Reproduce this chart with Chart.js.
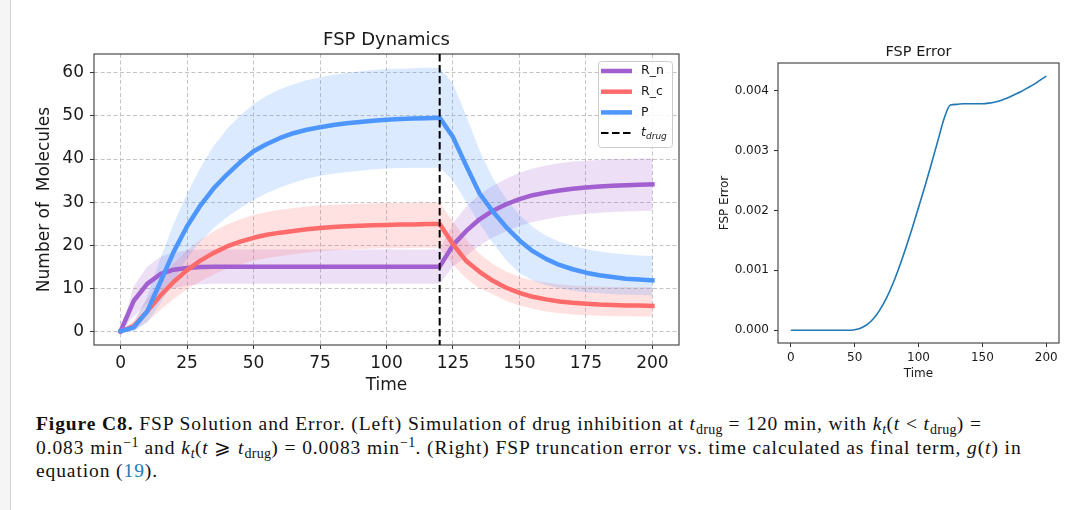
<!DOCTYPE html>
<html>
<head>
<meta charset="utf-8">
<script src="https://cdn.jsdelivr.net/npm/chart.js@4.4.1/dist/chart.umd.min.js"></script>
<style>
  body { margin: 0; width: 1082px; height: 510px; background: #fff; overflow: hidden; position: relative; }
  #strip { position: absolute; left: 0; top: 0; width: 10px; height: 510px; background: #f5f5f5; border-right: 1px solid #d4d4d4; }
  #left { position: absolute; left: 10px; top: 20px; }
  #right { position: absolute; left: 700px; top: 20px; }
  #caption { position: absolute; left: 36px; top: 412px; margin: 0; width: 1040px;
    font-family: "Liberation Serif", serif; font-size: 19.5px; letter-spacing: 0.9px; line-height: 23.5px; color: #111; white-space: nowrap; }
  #caption sub, #caption sup { font-size: 0.72em; line-height: 0; letter-spacing: 0.3px; }
  #caption sub { vertical-align: -0.3em; }
  #caption sup { vertical-align: 0.5em; }
  .ref { color: #1a7ab8; }
</style>
</head>
<body>
<div id="strip"></div>
<canvas id="left" width="690" height="380"></canvas>
<canvas id="right" width="382" height="380"></canvas>
<p id="caption"><b>Figure C8.</b> FSP Solution and Error. (Left) Simulation of drug inhibition at <i>t</i><sub>drug</sub> = 120 min, with <i>k<sub>t</sub></i>(<i>t</i> &lt; <i>t</i><sub>drug</sub>) =<br>0.083 min<sup>−1</sup> and <i>k<sub>t</sub></i>(<i>t</i> ⩾ <i>t</i><sub>drug</sub>) = 0.0083 min<sup>−1</sup>. (Right) FSP truncation error vs. time calculated as final term, <i>g</i>(<i>t</i>) in<br>equation (<span class="ref">19</span>).</p>
<script>
const FONT = 'DejaVu Sans'

// time points (min)
const times = [0, 5, 10, 15, 20, 25, 30, 35, 40, 45, 50, 55, 60, 65, 70, 75, 80, 85, 90, 95, 100,
  105, 110, 115, 120, 125, 130, 135, 140, 145, 150, 155, 160, 165, 170, 175, 180, 185, 190, 195, 200]
const tDrug = 120

// R_n
const rnMean = [0, 7.1, 11.0, 13.3, 14.3, 14.7, 14.9, 15, 15, 15, 15, 15, 15, 15, 15, 15, 15, 15, 15, 15, 15,
  15, 15, 15, 15, 20.0, 23.3, 26.0, 28.0, 29.5, 30.7, 31.6, 32.2, 32.7, 33.1, 33.4, 33.6, 33.8, 33.9, 34.0, 34.1]
const rnLo = [0, 3.5, 6.5, 8.8, 10.0, 10.6, 10.9, 11, 11, 11, 11, 11, 11, 11, 11, 11, 11, 11, 11, 11, 11,
  11, 11, 11, 11, 15.0, 17.5, 20.0, 21.8, 23.2, 24.5, 25.4, 26.0, 26.6, 27.0, 27.3, 27.5, 27.7, 27.8, 27.9, 28.0]
const rnHi = [0, 10.5, 15.0, 17.3, 18.3, 18.8, 19.0, 19, 19, 19, 19, 19, 19, 19, 19, 19, 19, 19, 19, 19, 19,
  19, 19, 19, 19, 25.0, 29.0, 31.8, 33.8, 35.4, 36.8, 37.8, 38.5, 39.0, 39.4, 39.6, 39.8, 40.0, 40.0, 40.1, 40.1]

// R_c
const rcMean = [0, 1.2, 4.6, 8.3, 11.5, 14.2, 16.4, 18.2, 19.7, 20.8, 21.7, 22.4, 22.9, 23.3, 23.7, 24.0, 24.2, 24.4, 24.5, 24.6, 24.7,
  24.8, 24.8, 24.9, 24.9, 20.2, 16.3, 13.8, 11.7, 10.1, 8.9, 8.0, 7.4, 6.9, 6.6, 6.4, 6.2, 6.1, 6.0, 6.0, 5.9]
const rcLo = [0, 0.2, 2.2, 5.0, 7.5, 9.8, 11.6, 13.2, 14.5, 15.5, 16.4, 17.0, 17.5, 17.9, 18.3, 18.6, 18.8, 19.0, 19.1, 19.2, 19.3,
  19.3, 19.4, 19.4, 19.4, 15.5, 12.2, 10.0, 8.6, 7.1, 6.0, 5.2, 4.6, 4.2, 3.9, 3.7, 3.6, 3.5, 3.5, 3.4, 3.4]
const rcHi = [0, 2.5, 7.5, 12.0, 15.8, 18.8, 21.2, 23.2, 24.8, 26.0, 27.0, 27.7, 28.2, 28.6, 29.0, 29.2, 29.4, 29.5, 29.6, 29.7, 29.8,
  29.8, 29.8, 29.9, 29.9, 25.5, 21.3, 18.0, 15.6, 13.9, 12.6, 11.8, 11.3, 10.9, 10.6, 10.5, 10.4, 10.3, 10.3, 10.2, 10.2]

// P
const pMean = [0, 0.9, 4.6, 11.5, 18.5, 24.4, 29.2, 33.2, 36.4, 39.3, 41.8, 43.5, 44.9, 46.0, 46.8, 47.4, 47.9, 48.3, 48.6, 48.9, 49.1,
  49.3, 49.4, 49.5, 49.6, 45.1, 38.4, 32.0, 27.8, 24.2, 21.1, 18.6, 16.8, 15.4, 14.4, 13.6, 13.0, 12.6, 12.2, 12.0, 11.8]
const pLo = [0, 0, 2.0, 6.5, 11.5, 17.0, 20.8, 24.0, 26.5, 28.6, 30.5, 32.1, 33.4, 34.5, 35.4, 36.1, 36.6, 37.0, 37.3, 37.6, 37.8,
  37.9, 38.0, 38.0, 38.0, 35.0, 30.0, 25.0, 20.5, 16.5, 13.5, 11.8, 10.7, 10.0, 9.4, 9.0, 8.8, 8.6, 8.5, 8.4, 8.3]
const pHi = [0, 2.0, 8.0, 17.0, 25.0, 32.0, 38.0, 43.0, 47.0, 50.2, 52.8, 54.7, 56.2, 57.4, 58.3, 59.0, 59.6, 60.0, 60.4, 60.7, 60.9,
  61.0, 61.1, 61.2, 61.2, 57.5, 50.0, 42.0, 35.5, 30.8, 27.0, 24.2, 22.2, 20.8, 19.8, 19.1, 18.5, 18.1, 17.8, 17.6, 17.5]

// FSP error g(t)
const errVals = [0, 0, 0, 0, 0, 0, 0, 0, 0, 0, 0.00001, 0.00004, 0.0001, 0.0002, 0.00035, 0.00054, 0.00078, 0.00106, 0.00137, 0.0017, 0.00205,
  0.0024, 0.00277, 0.00315, 0.00353, 0.00376, 0.00377, 0.00378, 0.00378, 0.00378, 0.00378, 0.00379, 0.00381, 0.00384, 0.00388, 0.00393,
  0.00398, 0.00404, 0.0041, 0.00417, 0.00424]

const dynXTicks = [0, 25, 50, 75, 100, 125, 150, 175, 200]
const dynYTicks = [0, 10, 20, 30, 40, 50, 60]
const errXTicks = [0, 50, 100, 150, 200]
const errYTicks = [0, 0.001, 0.002, 0.003, 0.004]

const colN = '#a15fd0', colC = '#ff6b6b', colP = '#4d96ff'

function pts(arr) { return times.map((t, i) => ({x: t, y: arr[i]})) }
function rgba(hex, a) {
  const n = parseInt(hex.slice(1), 16)
  return 'rgba(' + (n >> 16) + ',' + ((n >> 8) & 255) + ',' + (n & 255) + ',' + a + ')'
}
function band(arr, col, order, isHi) {
  return {data: pts(arr), borderWidth: 0, pointRadius: 0, order: order,
    backgroundColor: rgba(col, 0.2), fill: isHi ? '-1' : false}
}
function line(label, arr, col, order) {
  return {label: label, data: pts(arr), borderColor: col, borderWidth: 4.5, pointRadius: 0,
    borderJoinStyle: 'round', borderCapStyle: 'square', fill: false, order: order}
}

// box around the plot, like matplotlib spines
const frame = {
  id: 'frame',
  afterDatasetsDraw(chart) {
    const a = chart.chartArea, c = chart.ctx
    c.save()
    c.strokeStyle = '#3a3a3a'
    c.lineWidth = 1.1
    c.strokeRect(a.left, a.top, a.right - a.left, a.bottom - a.top)
    c.restore()
  }
}

const drugLine = {
  id: 'drugLine',
  afterDatasetsDraw(chart) {
    const a = chart.chartArea, c = chart.ctx
    const x = chart.scales.x.getPixelForValue(tDrug)
    c.save()
    c.strokeStyle = '#000'
    c.lineWidth = 2
    c.setLineDash([7.5, 3.5])
    c.beginPath()
    c.moveTo(x, a.top)
    c.lineTo(x, a.bottom)
    c.stroke()
    c.restore()
  }
}

const dynLegend = {
  id: 'dynLegend',
  afterDraw(chart) {
    const a = chart.chartArea, c = chart.ctx
    const w = 74, h = 86
    const bx = a.right - 7 - w, by = a.top + 7
    c.save()
    c.fillStyle = 'rgba(255,255,255,0.85)'
    c.strokeStyle = '#cccccc'
    c.lineWidth = 1
    c.beginPath()
    c.roundRect(bx + 0.5, by + 0.5, w, h, 3)
    c.fill()
    c.stroke()
    const items = [
      {text: 'R_n', col: colN}, {text: 'R_c', col: colC}, {text: 'P', col: colP}, {text: 't', col: '#000', dash: true}
    ]
    items.forEach((it, i) => {
      const y = by + 10 + i * 20.7
      c.beginPath()
      c.strokeStyle = it.col
      if (it.dash) { c.lineWidth = 2; c.setLineDash([7.5, 3.5]) } else { c.lineWidth = 4.5; c.setLineDash([]) }
      c.moveTo(bx + 3, y)
      c.lineTo(bx + 34, y)
      c.stroke()
      c.setLineDash([])
      c.fillStyle = '#1a1a1a'
      c.textBaseline = 'middle'
      c.textAlign = 'left'
      if (it.dash) {
        c.font = 'italic 12.5px ' + FONT
        c.fillText('t', bx + 43, y)
        c.font = 'italic 9px ' + FONT
        c.fillText('drug', bx + 48, y + 4)
      } else {
        c.font = '12.5px ' + FONT
        c.fillText(it.text, bx + 43, y)
      }
    })
    c.restore()
  }
}

const dynChart = new Chart(document.getElementById('left'), {
  type: 'line',
  data: {
    datasets: [
      band(rnLo, colN, 15, false), band(rnHi, colN, 15, true),
      band(rcLo, colC, 14, false), band(rcHi, colC, 14, true),
      band(pLo, colP, 13, false), band(pHi, colP, 13, true),
      line('R_n', rnMean, colN, 2),
      line('R_c', rcMean, colC, 1),
      line('P', pMean, colP, 0)
    ]
  },
  options: {
    responsive: false,
    animation: false,
    layout: {padding: {left: 0, right: 21, top: 0, bottom: 0}},
    plugins: {
      legend: {display: false},
      tooltip: {enabled: false},
      title: {display: true, text: 'FSP Dynamics', fullSize: false, color: '#1a1a1a',
        font: {family: FONT, size: 18, weight: 'normal'}, padding: {top: 9.2, bottom: 3.2}}
    },
    scales: {
      x: {
        type: 'linear', min: -10, max: 210,
        afterBuildTicks: s => { s.ticks = dynXTicks.map(v => ({value: v})) },
        afterFit: s => { s.height = 55 },
        grid: {color: '#c4c4c4', tickColor: '#333', tickLength: 4, tickWidth: 1, tickBorderDash: []},
        border: {display: false, dash: [4, 2.5]},
        ticks: {color: '#1a1a1a', padding: 4, maxRotation: 0, font: {family: FONT, size: 17}},
        title: {display: true, text: 'Time', color: '#1a1a1a', font: {family: FONT, size: 17}, padding: {top: 0, bottom: 4.1}}
      },
      y: {
        type: 'linear', min: -3.2, max: 64.4,
        afterBuildTicks: s => { s.ticks = dynYTicks.map(v => ({value: v})) },
        afterFit: s => { s.width = 84 },
        grid: {color: '#c4c4c4', tickColor: '#333', tickLength: 4, tickWidth: 1, tickBorderDash: []},
        border: {display: false, dash: [4, 2.5]},
        ticks: {color: '#1a1a1a', padding: 6, font: {family: FONT, size: 17}},
        title: {display: true, text: 'Number of  Molecules', color: '#1a1a1a', font: {family: FONT, size: 17}, padding: {top: 24.8, bottom: 0}}
      }
    }
  },
  plugins: [frame, drugLine, dynLegend]
})

const errChart = new Chart(document.getElementById('right'), {
  type: 'line',
  data: {
    datasets: [{
      label: 'FSP Error', data: pts(errVals), borderColor: '#1f77b4', borderWidth: 1.6,
      pointRadius: 0, fill: false, cubicInterpolationMode: 'monotone'
    }]
  },
  options: {
    responsive: false,
    animation: false,
    layout: {padding: {left: 0, right: 23, top: 0, bottom: 0}},
    plugins: {
      legend: {display: false},
      tooltip: {enabled: false},
      title: {display: true, text: 'FSP Error', fullSize: false, color: '#1a1a1a',
        font: {family: FONT, size: 14.5, weight: 'normal'}, padding: {top: 23.3, bottom: 2.3}}
    },
    scales: {
      x: {
        type: 'linear', min: -10, max: 210,
        afterBuildTicks: s => { s.ticks = errXTicks.map(v => ({value: v})) },
        afterFit: s => { s.height = 57 },
        grid: {drawOnChartArea: false, color: '#333', tickLength: 4},
        border: {display: false},
        ticks: {color: '#1a1a1a', padding: 4, maxRotation: 0, font: {family: FONT, size: 12}},
        title: {display: true, text: 'Time', color: '#1a1a1a', font: {family: FONT, size: 12}, padding: {top: 0, bottom: 18.8}}
      },
      y: {
        type: 'linear', min: -0.000212, max: 0.00446,
        afterBuildTicks: s => { s.ticks = errYTicks.map(v => ({value: v})) },
        afterFit: s => { s.width = 78 },
        grid: {drawOnChartArea: false, color: '#333', tickLength: 4},
        border: {display: false},
        ticks: {color: '#1a1a1a', padding: 5, font: {family: FONT, size: 12}, callback: v => v.toFixed(3)},
        title: {display: true, text: 'FSP Error', color: '#1a1a1a', font: {family: FONT, size: 12}, padding: {top: 17.8, bottom: 0}}
      }
    }
  },
  plugins: [frame]
})
</script>
</body>
</html>
